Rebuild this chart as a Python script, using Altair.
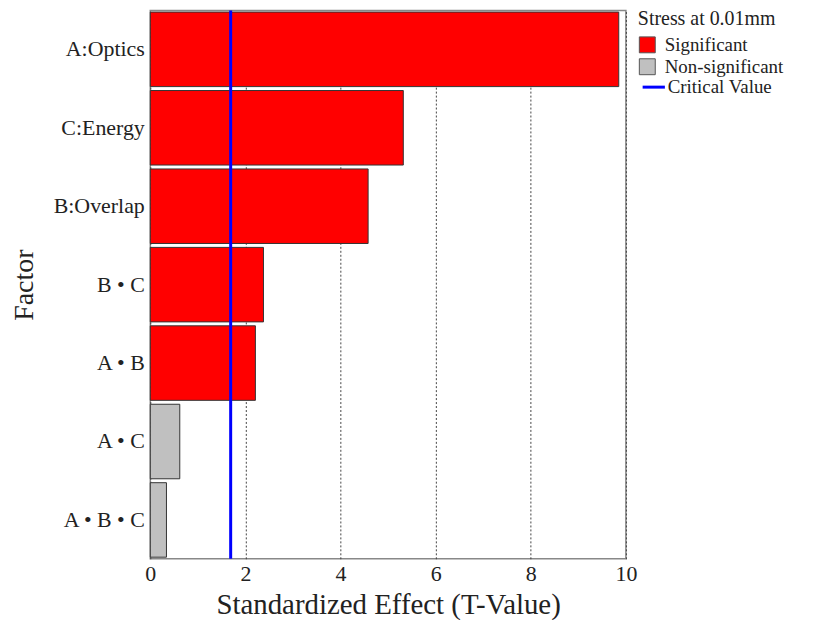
import altair as alt
import pandas as pd

factors = ["A:Optics", "C:Energy", "B:Overlap", "B • C", "A • B", "A • C", "A • B • C"]
effects = [9.85, 5.32, 4.58, 2.38, 2.21, 0.62, 0.34]
status = ["Significant"] * 5 + ["Non-significant"] * 2
critical_value = 1.69

df = pd.DataFrame({"factor": factors, "effect": effects, "status": status})
crit = pd.DataFrame({"crit": [critical_value], "name": ["Critical Value"]})

FONT = "Liberation Serif"

bars = alt.Chart(df).mark_bar(stroke="#333333", strokeWidth=1).encode(
    x=alt.X("effect:Q", scale=alt.Scale(domain=[0, 10], nice=False),
            axis=alt.Axis(title="Standardized Effect (T-Value)", values=[0, 2, 4, 6, 8, 10],
                          grid=True, gridDash=[2, 2], gridColor="#444444", gridOpacity=1,
                          gridWidth=1, ticks=False, domain=False, labelFontSize=22,
                          labelPadding=5, labelFlush=False, titleFontSize=29,
                          titleFontWeight="normal", titlePadding=6, labelFont=FONT,
                          titleFont=FONT, labelColor="#222", titleColor="#222")),
    y=alt.Y("factor:N", sort=factors,
            scale=alt.Scale(paddingInner=0.05, paddingOuter=0.02),
            axis=alt.Axis(title="Factor", ticks=False, domain=False, labelFontSize=22,
                          labelPadding=6, titleFontSize=28, titleFontWeight="normal",
                          titlePadding=15, labelFont=FONT, titleFont=FONT, labelColor="#222",
                          titleColor="#222")),
    fill=alt.Fill("status:N",
                  scale=alt.Scale(domain=["Significant", "Non-significant"],
                                  range=["#ff0000", "#c0c0c0"]),
                  legend=alt.Legend(title="Stress at 0.01mm", orient="none", legendX=490,
                                    legendY=-1, symbolType="square", symbolSize=256,
                                    symbolStrokeColor="#555555", symbolStrokeWidth=1,
                                    labelFontSize=19, titleFontSize=20,
                                    titleFontWeight="normal", labelFont=FONT, titleFont=FONT,
                                    rowPadding=1, labelOffset=8, titlePadding=6,
                                    labelColor="#222", titleColor="#222")),
)

rule = alt.Chart(crit).mark_rule(strokeWidth=3).encode(
    x=alt.X("crit:Q"),
    stroke=alt.Stroke("name:N", scale=alt.Scale(range=["#0000ff"]),
                      legend=alt.Legend(title=None, orient="none", legendX=493, legendY=64,
                                        symbolType="stroke", symbolStrokeWidth=3,
                                        symbolSize=500, labelFontSize=19, labelFont=FONT,
                                        labelOffset=1, labelColor="#222")),
)

chart = alt.layer(bars, rule).resolve_scale(fill="independent", stroke="independent").properties(
    width=478, height=551,
    autosize=alt.AutoSizeParams(type="none"),
    padding={"left": 143, "top": 1, "right": 180, "bottom": 60},
).configure_view(stroke="#888888", strokeWidth=1.5)

chart.save("out.html", embed_options={"renderer": "svg", "actions": False})
